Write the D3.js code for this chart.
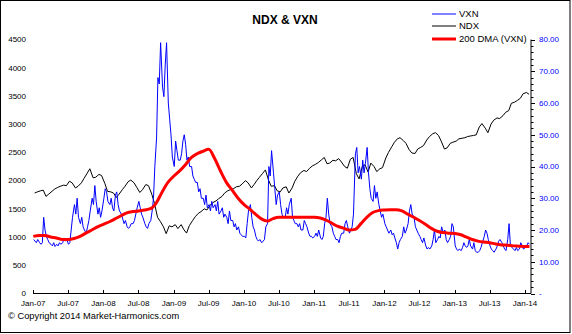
<!DOCTYPE html>
<html><head><meta charset="utf-8">
<script src="https://cdn.jsdelivr.net/npm/d3@7"></script>
<style>
html,body{margin:0;padding:0;background:#fff;}
svg{display:block;font-family:"Liberation Sans",Arial,sans-serif;}
</style></head>
<body><svg id="c" width="572" height="334"></svg>
<script>
// ---- DATA ----
const startYear = 2007;
// VXN: 4 readings per month (approx. weekly), Jan 2007 .. Jan 2014
const vxn = [
 17,16.5,16,17, 16,15.5,16,24, 20,18,17,16, 15.5,15,16,14.8, 15.5,15,16,15.5, 16,17.5,16.5,17,
 15.5,16,20,24, 28,25,30,24, 22,24,21,20, 19,21,23,26, 30,28,34,29, 25,27,24,26,
 30,33,32,29, 28,30,27,26, 31,32,28,26, 25,23.5,22,23, 21,20.5,21,22, 22,23,25,27,
 29,27,25,24, 22,21,20.5,22, 23,26,30,40, 49,68,66,79, 65,62,72,79, 60,55,50,43,
 40,48,45,42, 42,44,48,50, 47,42,43,40, 40,37,36,35, 35,32,33,30, 30,28,31,27,
 28,26,29,27, 28,26,29,25, 26,27,24,25, 24,22,26,23, 23,21,22,20, 21,19,18.5,18,
 18,17.5,22,26, 28,24,21,20, 18,17,16.5,17, 16,16.5,17,21, 22,40,37,45, 38,33,28,31,
 32,28,25,24, 24,27,25,28, 30,24,23,22, 22,21,22,20, 20,23,22,21, 19,18,18,17.5,
 18,19,18,20, 17.5,17,18,22, 24,30,25,22, 21,19,18,17, 17,16,18,19, 19,22,23,21,
 19,20,21,25, 44,46,38,40, 36,42,38,41, 46,38,33,30, 29,34,30,32, 28,26,24,25,
 22,21,20,19, 20,18.5,19,17.5, 16,14,16,17, 18,21,19,20, 22,26,28,25, 24,21,20,19,
 18,17,16,17.5, 15,14,14.5,14, 15,17,20,16, 17,18,17.5,21, 19,20,17,16, 17,18,22,21,
 15,14,13.5,14, 13.5,14.5,16,15, 14.5,15,17,15, 14,16,13.5,13, 13,13.5,14.5,16, 18,20,19,17,
 15,14,13.5,13, 14,15,16.5,17, 16,15,14,13.5, 17,22,15,14.5, 14,13.5,14.5,13.5, 14,16,15,14,
 14.5,15,16,15.5
];
// NDX: 2 readings per month, Jan 2007 .. Jan 2014
const ndx = [
 1780,1800, 1820,1830, 1720,1760, 1810,1850, 1880,1900, 1920,1910,
 1990,1960, 1870,1900, 1960,2040, 2130,2210, 2050,2060, 2110,2090,
 1950,1810, 1800,1780, 1700,1760, 1840,1900, 1980,2010, 1960,1880,
 1790,1840, 1930,1910, 1760,1600, 1350,1280, 1180,1060, 1200,1180,
 1220,1150, 1220,1130, 1070,1200, 1290,1360, 1420,1450, 1500,1480,
 1560,1610, 1640,1680, 1720,1780, 1820,1840, 1860,1890, 1900,1940,
 2000,1960, 1870,1930, 2000,2060, 2130,2190, 2010,1900, 1910,1820,
 1800,1870, 1890,1780, 1870,1990, 2080,2140, 2180,2160, 2220,2260,
 2290,2320, 2370,2410, 2300,2310, 2360,2350, 2390,2330, 2250,2220,
 2380,2410, 2120,2030, 2250,2280, 2150,2310, 2250,2160, 2210,2230,
 2400,2500, 2600,2680, 2740,2760, 2710,2660, 2550,2490, 2480,2560,
 2590,2620, 2720,2780, 2830,2850, 2800,2700, 2560,2580, 2660,2680,
 2700,2740, 2750,2760, 2780,2790, 2800,2810, 2950,3010, 2930,2850,
 3000,3070, 3110,3100, 3150,3210, 3240,3370, 3390,3420, 3460,3540,
 3560,3530
];
// 200-day moving average of VXN: 1 reading per month, Jan 2007 .. Jan 2014
const dma = [
 18.0,18.3,18.3,17.8,17.5,17.0,17.0,17.3,18.0,19.0,20.0,21.0,
 21.8,22.6,23.5,24.5,25.4,25.8,26.0,26.3,26.7,28.5,32.0,35.0,
 37.0,38.7,40.5,42.8,44.0,44.8,45.4,42.5,38.5,35.0,32.5,30.0,
 28.0,26.5,25.0,23.5,22.8,23.6,24.0,24.0,24.0,24.0,24.0,24.0,
 24.0,23.8,23.2,22.2,21.2,20.6,20.0,20.2,22.0,24.0,25.5,26.1,
 26.3,26.4,26.4,26.0,25.0,24.0,23.0,21.8,20.5,19.6,19.2,19.0,
 18.9,18.5,17.8,17.0,16.5,16.2,16.0,15.6,15.3,15.2,15.0,14.9,
 14.8,14.8
];
const leftTicks = [0,500,1000,1500,2000,2500,3000,3500,4000,4500];
const rightTicks = [0,10,20,30,40,50,60,70,80];
const legendItems = ["VXN","NDX","200 DMA (VXN)"];
const titleText = "NDX & VXN";
const copyrightText = "\u00A9 Copyright 2014 Market-Harmonics.com";

// ---- DATES ----
const vxnDates = vxn.map((v,i)=> new Date(startYear, Math.floor(i/4), 3 + 7*(i%4)));
const ndxDates = ndx.map((v,i)=> new Date(startYear, Math.floor(i/2), 8 + 14*(i%2)));
const dmaDates = dma.map((v,i)=> i < 85 ? new Date(startYear, i, 1) : new Date(2014, 0, 24));

// ---- CHART ----
const svg = d3.select("#c");
svg.append("rect").attr("x",0.5).attr("y",0.5).attr("width",569.5).attr("height",332)
  .attr("fill","#fff").attr("stroke","#000").attr("stroke-width",1);

const x = d3.scaleTime().domain([new Date(2007,0,1), new Date(2014,1,1)]).range([33.3, 531]);
const yL = d3.scaleLinear().domain([0,4500]).range([293.5, 39.5]);
const yR = d3.scaleLinear().domain([0,80]).range([293.5, 39.5]);

// left labels (no axis line)
svg.append("g").selectAll("text").data(leftTicks).join("text")
  .attr("x",26).attr("y",d=>yL(d)).attr("dy","0.35em").attr("text-anchor","end")
  .attr("font-size",8).attr("fill","#000").text(d=>d);

// right axis
const rAxis = svg.append("g");
rAxis.append("line").attr("x1",531).attr("x2",531).attr("y1",yR(80)).attr("y2",yR(0)).attr("stroke","#000");
const minor = d3.range(0,81,2);
rAxis.selectAll("line.m").data(minor).join("line").attr("class","m")
  .attr("x1",531).attr("x2",d=> d%10===0 ? 535 : 533.5)
  .attr("y1",d=>Math.round(yR(d))+0.5).attr("y2",d=>Math.round(yR(d))+0.5).attr("stroke","#000");
rAxis.selectAll("text").data(rightTicks).join("text")
  .attr("x",539).attr("y",d=>yR(d)).attr("dy","0.35em")
  .attr("font-size",8).attr("fill","#0000ff").text(d=> d===0 ? " -" : d3.format(".2f")(d));

// x axis
const xTicks = d3.timeMonth.every(6).range(new Date(2007,0,1), new Date(2014,0,2));
const xa = svg.append("g");
xa.append("line").attr("x1",33).attr("x2",531).attr("y1",293.5).attr("y2",293.5).attr("stroke","#000");
xa.selectAll("line.t").data(xTicks).join("line").attr("class","t")
  .attr("x1",d=>Math.round(x(d))+0.5).attr("x2",d=>Math.round(x(d))+0.5)
  .attr("y1",293.5).attr("y2",290).attr("stroke","#000");
const fmt = d3.timeFormat("%b-%y");
xa.selectAll("text").data(xTicks).join("text")
  .attr("x",d=>x(d)).attr("y",303).attr("dy","0.35em").attr("text-anchor","middle")
  .attr("font-size",8).attr("fill","#000").text(d=>fmt(d));

// series
const lineN = d3.line().x((d,i)=>x(ndxDates[i])).y(d=>yL(d));
const lineV = d3.line().x((d,i)=>x(vxnDates[i])).y(d=>yR(d));
const lineD = d3.line().x((d,i)=>x(dmaDates[i])).y(d=>yR(d)).curve(d3.curveMonotoneX);

svg.append("path").datum(ndx).attr("d",lineN).attr("fill","none").attr("stroke","#000").attr("stroke-width",1);
svg.append("path").datum(vxn).attr("d",lineV).attr("fill","none").attr("stroke","#0000ff").attr("stroke-width",1);
svg.append("path").datum(dma).attr("d",lineD).attr("fill","none").attr("stroke","#ff0000").attr("stroke-width",3);

// title
svg.append("text").attr("x",285).attr("y",24).attr("text-anchor","middle")
  .attr("font-size",12).attr("font-weight","bold").text(titleText);

// legend
const legY = [14,26,39];
const legColor = ["#0000ff","#000","#ff0000"];
const legW = [1,1,3];
legendItems.forEach((t,i)=>{
  svg.append("line").attr("x1",432).attr("x2",456).attr("y1",legY[i]).attr("y2",legY[i])
    .attr("stroke",legColor[i]).attr("stroke-width",legW[i]);
  svg.append("text").attr("x",459).attr("y",legY[i]).attr("dy","0.35em")
    .attr("font-size",9.5).text(t);
});

// copyright
svg.append("text").attr("x",8).attr("y",316).attr("dy","0.35em").attr("font-size",9.3).text(copyrightText);
</script></body></html>
